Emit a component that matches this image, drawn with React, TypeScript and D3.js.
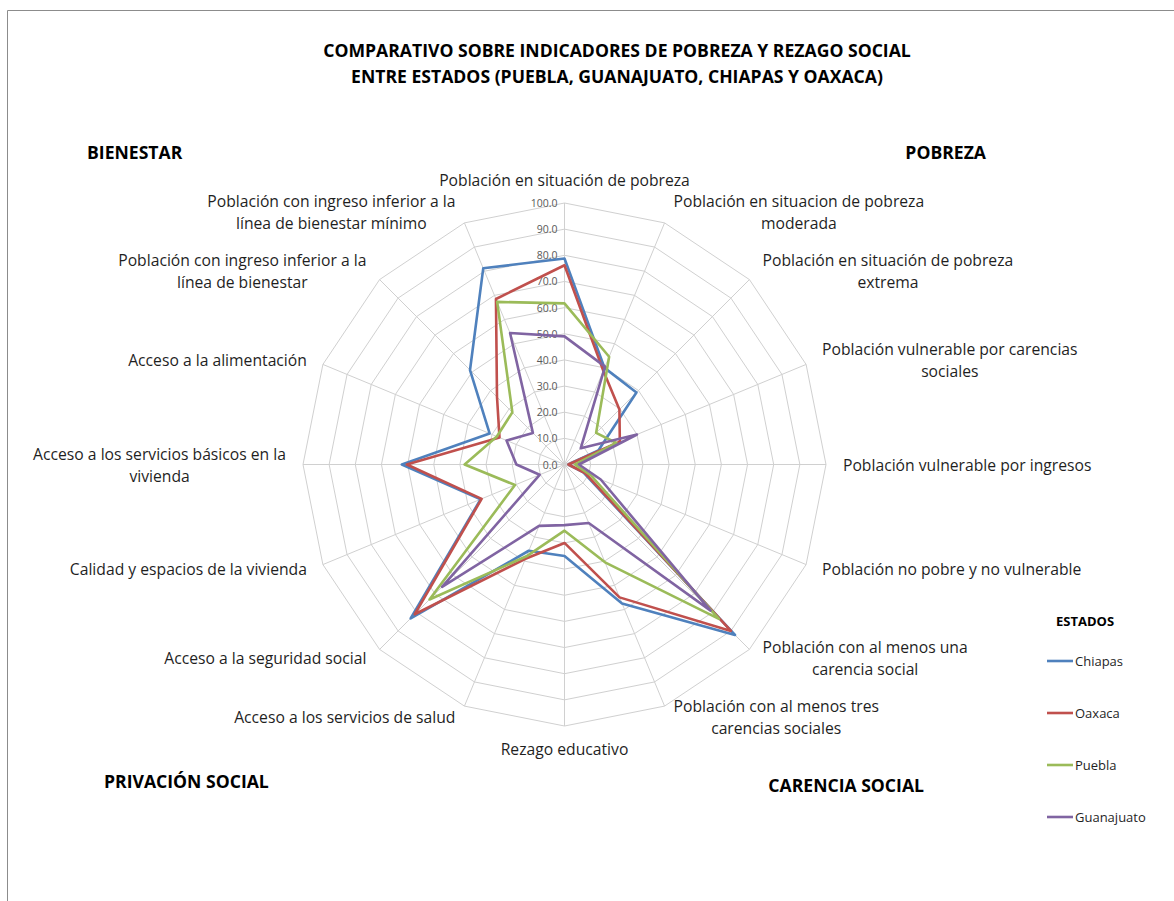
import React, { useEffect, useRef } from "react";
import * as d3 from "d3";

const categories = [
  "Población en situación de pobreza",
  "Población en situacion de pobreza\nmoderada",
  "Población en situación de pobreza\nextrema",
  "Población vulnerable por carencias\nsociales",
  "Población vulnerable por ingresos",
  "Población no pobre y no vulnerable",
  "Población con al menos una\ncarencia social",
  "Población con al menos tres\ncarencias sociales",
  "Rezago educativo",
  "Acceso a los servicios de salud",
  "Acceso a la seguridad social",
  "Calidad y espacios de la vivienda",
  "Acceso a los servicios básicos en la\nvivienda",
  "Acceso a la alimentación",
  "Población con ingreso inferior a la\nlínea de bienestar",
  "Población con ingreso inferior a la\nlínea de bienestar mínimo",
];

const seriesNames = ["Chiapas", "Oaxaca", "Puebla", "Guanajuato"];
const chiapas = [78.8, 40.0, 38.9, 14.0, 1.5, 7.8, 92.2, 57.5, 35.0, 35.7, 83.2, 34.7, 62.2, 31.0, 51.1, 81.2];
const oaxaca = [76.2, 38.8, 29.7, 22.9, 1.5, 8.5, 90.0, 55.0, 30.0, 39.0, 81.0, 34.3, 60.3, 26.9, 36.5, 68.5];
const puebla = [61.6, 44.6, 17.1, 21.5, 4.0, 11.0, 83.5, 40.5, 25.3, 38.0, 73.0, 20.5, 38.2, 28.0, 28.2, 67.3];
const guanajuato = [49.0, 40.5, 8.8, 30.0, 5.5, 15.0, 79.0, 24.2, 23.2, 25.4, 66.2, 10.3, 18.4, 24.0, 17.1, 54.4];
const seriesValues = [chiapas, oaxaca, puebla, guanajuato];
const seriesColors = ["#4F81BD", "#C0504D", "#9BBB59", "#8064A2"];
const tickValues = [0, 10, 20, 30, 40, 50, 60, 70, 80, 90, 100];

const titleLines = [
  "COMPARATIVO SOBRE INDICADORES DE POBREZA Y REZAGO SOCIAL",
  "ENTRE ESTADOS (PUEBLA, GUANAJUATO, CHIAPAS Y OAXACA)",
];
const cornerLabels = ["BIENESTAR", "POBREZA", "PRIVACIÓN SOCIAL", "CARENCIA SOCIAL"];
const legendTitle = "ESTADOS";

const W = 1174;
const H = 901;
const CX = 564.5;
const CY = 464.5;
const R = 261.5;
const FONT = "'Open Sans', sans-serif";

export default function App() {
  const ref = useRef<SVGSVGElement | null>(null);

  useEffect(() => {
    const svg = d3.select(ref.current);
    svg.selectAll("*").remove();

    svg.append("rect").attr("x", 0).attr("y", 0).attr("width", W).attr("height", H).attr("fill", "#fff");
    // chart frame
    svg.append("path")
      .attr("d", `M7.5,${H} V10.5 H${W}`)
      .attr("fill", "none")
      .attr("stroke", "#8c8c8c")
      .attr("stroke-width", 1);

    const n = categories.length;
    const angle = (i: number) => (i * 2 * Math.PI) / n;
    const r = d3.scaleLinear().domain([0, 100]).range([0, R]);

    const g = svg.append("g").attr("transform", `translate(${CX},${CY})`);

    const ringLine = d3.lineRadial<number>()
      .angle((_, i) => angle(i))
      .radius((d) => r(d))
      .curve(d3.curveLinearClosed);

    // rings
    tickValues.slice(1).forEach((t) => {
      g.append("path")
        .attr("d", ringLine(d3.range(n).map(() => t)) as string)
        .attr("fill", "none")
        .attr("stroke", "#d0d0d0")
        .attr("stroke-width", 1);
    });
    // spokes
    d3.range(n).forEach((i) => {
      const a = angle(i);
      g.append("line")
        .attr("x1", 0).attr("y1", 0)
        .attr("x2", r(100) * Math.sin(a))
        .attr("y2", -r(100) * Math.cos(a))
        .attr("stroke", "#d0d0d0")
        .attr("stroke-width", 1);
    });

    // tick labels
    tickValues.forEach((t) => {
      g.append("text")
        .attr("x", -7)
        .attr("y", -r(t))
        .attr("text-anchor", "end")
        .attr("dominant-baseline", "central")
        .attr("font-family", FONT)
        .attr("font-size", 10.5)
        .attr("fill", "#595959")
        .text(t.toFixed(1));
    });

    // series
    const seriesLine = d3.lineRadial<number>()
      .angle((_, i) => angle(i))
      .radius((d) => r(d))
      .curve(d3.curveLinearClosed);
    seriesValues.forEach((vals, k) => {
      g.append("path")
        .attr("d", seriesLine(vals) as string)
        .attr("fill", "none")
        .attr("stroke", seriesColors[k])
        .attr("stroke-width", 2.6)
        .attr("stroke-linejoin", "round");
    });

    // category labels
    const lh = 22;
    categories.forEach((cat, i) => {
      const a = angle(i);
      const s = Math.sin(a);
      const c = Math.cos(a);
      const px = CX + R * s;
      const py = CY - R * c;
      const lines = cat.split("\n");
      const cyLabel = py - c * (Math.abs(c) > 0.99 ? 23 : 12);
      const tg = svg.append("g");
      const texts = lines.map((line, k) =>
        tg.append("text")
          .attr("y", cyLabel + (k - (lines.length - 1) / 2) * lh)
          .attr("dominant-baseline", "central")
          .attr("text-anchor", "middle")
          .attr("font-family", FONT)
          .attr("font-size", 15.7)
          .attr("fill", "#1f1f1f")
          .text(line)
      );
      const w = d3.max(texts, (t) => (t.node() as SVGTextElement).getComputedTextLength()) || 0;
      const gap = 4 + 13 * Math.abs(s);
      let centerX = px;
      if (s > 0.01) centerX = px + gap + w / 2;
      else if (s < -0.01) centerX = px - gap - w / 2;
      texts.forEach((t) => t.attr("x", centerX));
    });

    // title
    titleLines.forEach((line, k) => {
      svg.append("text")
        .attr("x", 617)
        .attr("y", 50 + k * 26)
        .attr("text-anchor", "middle")
        .attr("dominant-baseline", "central")
        .attr("font-family", FONT)
        .attr("font-weight", "bold")
        .attr("font-size", 17.6)
        .attr("fill", "#000")
        .text(line);
    });

    // corner labels
    const cornerPos = [
      { x: 87, y: 152, anchor: "start" },
      { x: 986, y: 152, anchor: "end" },
      { x: 104, y: 781, anchor: "start" },
      { x: 924, y: 785, anchor: "end" },
    ];
    cornerLabels.forEach((txt, k) => {
      svg.append("text")
        .attr("x", cornerPos[k].x)
        .attr("y", cornerPos[k].y)
        .attr("text-anchor", cornerPos[k].anchor)
        .attr("dominant-baseline", "central")
        .attr("font-family", FONT)
        .attr("font-weight", "bold")
        .attr("font-size", 17.6)
        .attr("fill", "#000")
        .text(txt);
    });

    // legend
    svg.append("text")
      .attr("x", 1056)
      .attr("y", 621)
      .attr("dominant-baseline", "central")
      .attr("font-family", FONT)
      .attr("font-weight", "bold")
      .attr("font-size", 13)
      .attr("fill", "#000")
      .text(legendTitle);
    const legendY = d3.scalePoint<string>().domain(seriesNames).range([661, 817]);
    seriesNames.forEach((name, k) => {
      const y = legendY(name) as number;
      svg.append("line")
        .attr("x1", 1047).attr("x2", 1073)
        .attr("y1", y).attr("y2", y)
        .attr("stroke", seriesColors[k])
        .attr("stroke-width", 2.6);
      svg.append("text")
        .attr("x", 1075)
        .attr("y", y)
        .attr("dominant-baseline", "central")
        .attr("font-family", FONT)
        .attr("font-size", 13)
        .attr("fill", "#1f1f1f")
        .text(name);
    });
  }, []);

  return (
    <svg
      ref={ref}
      width={W}
      height={H}
      style={{ position: "absolute", left: 0, top: 0, display: "block" }}
    />
  );
}
